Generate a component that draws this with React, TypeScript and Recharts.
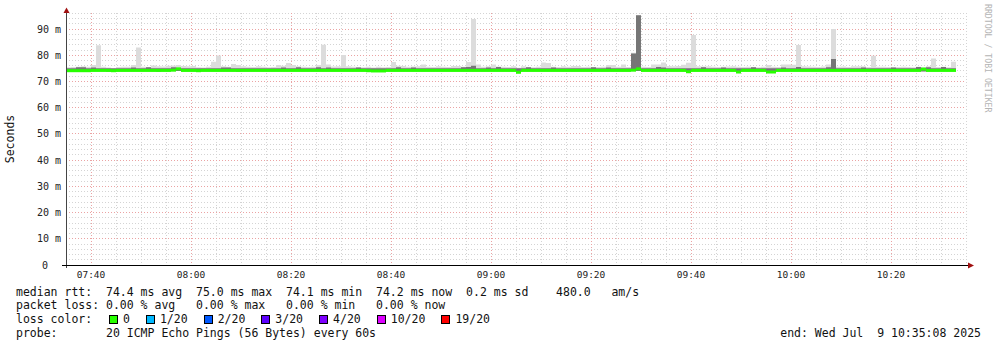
import { ComposedChart, Bar, XAxis, YAxis, CartesianGrid } from 'recharts'

// minutes after 07:35, one sample per minute
const TIME_TICKS = [5, 25, 45, 65, 85, 105, 125, 145, 165]
const TIME_LABELS = ['07:40', '08:00', '08:20', '08:40', '09:00', '09:20', '09:40', '10:00', '10:20']
const Y_TICKS = [0, 10, 20, 30, 40, 50, 60, 70, 80, 90]

const median = [
  74.3, 74.3, 74.3, 74.3, 74.3, 74.4, 74.4, 74.4, 74.4, 74.3,
  74.4, 74.4, 74.4, 74.4, 74.4, 74.4, 74.4, 74.4, 74.4, 74.4,
  74.4, 74.5, 75.0, 74.4, 74.4, 74.4, 74.3, 74.4, 74.4, 74.4,
  74.4, 74.4, 74.4, 74.4, 74.4, 74.4, 74.4, 74.4, 74.4, 74.4,
  74.4, 74.4, 74.4, 74.4, 74.4, 74.4, 74.4, 74.4, 74.4, 74.4,
  74.4, 74.4, 74.4, 74.4, 74.4, 74.4, 74.4, 74.4, 74.4, 74.4,
  74.3, 74.2, 74.2, 74.2, 74.4, 74.4, 74.4, 74.4, 74.4, 74.4,
  74.4, 74.4, 74.4, 74.4, 74.4, 74.4, 74.4, 74.4, 74.4, 74.4,
  74.4, 74.4, 74.4, 74.4, 74.4, 74.4, 74.4, 74.4, 74.4, 74.4,
  73.7, 74.4, 74.4, 74.4, 74.4, 74.4, 74.4, 74.4, 74.4, 74.4,
  74.4, 74.4, 74.4, 74.4, 74.4, 74.4, 74.4, 74.4, 74.4, 74.4,
  74.4, 74.4, 74.4, 74.5, 75.0, 74.4, 74.4, 74.4, 74.4, 74.4,
  74.4, 74.4, 74.4, 74.4, 73.9, 74.4, 74.4, 74.4, 74.4, 74.4,
  74.4, 74.4, 74.4, 74.4, 73.8, 74.4, 74.4, 74.4, 74.4, 74.4,
  73.8, 73.8, 74.4, 74.4, 74.4, 74.4, 74.4, 74.4, 74.4, 74.4,
  74.4, 74.4, 74.4, 74.4, 74.4, 74.4, 74.4, 74.4, 74.4, 74.4,
  74.4, 74.4, 74.4, 74.4, 74.4, 74.4, 74.4, 74.4, 74.4, 74.4,
  74.4, 74.9, 74.4, 74.4, 74.4, 74.4, 74.4, 74.4,
]

const smokeLo = [
  74.0, 74.0, 74.0, 74.0, 74.0, 74.0, 74.0, 74.0, 73.8, 73.8,
  74.0, 74.0, 74.0, 74.0, 74.0, 74.0, 74.0, 74.0, 73.8, 74.0,
  74.0, 74.0, 74.0, 74.0, 74.0, 74.0, 74.0, 74.0, 74.0, 74.0,
  74.0, 74.0, 74.0, 74.0, 73.8, 74.0, 74.0, 74.0, 74.0, 74.0,
  74.0, 74.0, 74.0, 74.0, 74.0, 74.0, 74.0, 74.0, 74.0, 74.0,
  74.0, 74.0, 74.0, 74.0, 74.0, 74.0, 74.0, 74.0, 74.0, 74.0,
  74.0, 73.8, 73.8, 74.0, 74.0, 74.0, 74.0, 74.0, 74.0, 74.0,
  74.0, 74.0, 74.0, 74.0, 74.0, 74.0, 74.0, 74.0, 74.0, 74.0,
  74.0, 74.0, 74.0, 74.0, 74.0, 74.0, 74.0, 74.0, 74.0, 74.0,
  73.4, 74.0, 74.0, 74.0, 74.0, 74.0, 74.0, 74.0, 74.0, 74.0,
  74.0, 74.0, 74.0, 74.0, 74.0, 74.0, 74.0, 74.0, 74.0, 74.0,
  74.0, 74.0, 74.0, 74.0, 74.0, 74.0, 74.0, 74.0, 74.0, 74.0,
  74.0, 74.0, 74.0, 74.0, 73.5, 74.0, 74.0, 74.0, 74.0, 74.0,
  74.0, 74.0, 74.0, 74.0, 73.5, 74.0, 74.0, 74.0, 74.0, 74.0,
  73.5, 73.5, 74.0, 74.0, 74.0, 74.0, 74.0, 74.0, 74.0, 74.0,
  74.0, 74.0, 74.0, 74.0, 74.0, 74.0, 74.0, 74.0, 74.0, 74.0,
  74.0, 74.0, 74.0, 74.0, 74.0, 74.0, 74.0, 74.0, 74.0, 74.0,
  74.0, 73.8, 74.0, 74.0, 74.0, 74.0, 74.0, 74.0,
]

const smokeHi = [
  75.4, 75.5, 75.6, 75.8, 75.6, 76.3, 83.8, 75.6, 75.3, 74.9,
  75.5, 75.6, 75.6, 76.3, 83.0, 75.6, 75.5, 76.1, 75.8, 75.7,
  76.0, 76.1, 76.3, 75.9, 75.8, 75.9, 75.4, 75.3, 75.6, 77.5,
  79.9, 75.8, 75.6, 76.7, 76.3, 75.8, 75.6, 75.5, 75.8, 75.6,
  75.4, 75.5, 76.3, 76.0, 77.0, 76.3, 75.8, 75.6, 75.5, 75.6,
  76.3, 84.0, 76.5, 75.7, 75.8, 80.1, 75.8, 75.6, 75.5, 75.4,
  75.6, 75.3, 75.6, 75.4, 75.5, 77.4, 76.0, 75.9, 75.6, 75.7,
  75.8, 76.5, 75.6, 75.5, 75.8, 75.6, 75.5, 75.9, 75.9, 75.6,
  77.4, 93.8, 76.5, 75.6, 75.8, 76.5, 75.7, 75.6, 75.5, 75.8,
  75.2, 75.8, 75.5, 75.4, 75.6, 77.2, 77.0, 75.6, 75.5, 75.8,
  75.6, 75.9, 75.9, 75.5, 75.6, 75.4, 75.5, 75.6, 76.3, 76.3,
  75.6, 76.5, 75.5, 81.0, 95.3, 75.6, 75.5, 76.5, 76.5, 77.2,
  75.9, 75.8, 75.9, 76.4, 77.1, 87.7, 75.8, 75.7, 75.8, 75.6,
  75.5, 75.6, 75.7, 75.8, 75.6, 75.5, 75.6, 75.5, 75.4, 75.6,
  76.3, 75.6, 75.5, 76.5, 76.5, 76.4, 83.9, 75.8, 75.7, 75.6,
  75.5, 75.7, 76.5, 90.0, 75.6, 75.7, 75.5, 75.8, 75.8, 75.8,
  75.5, 79.8, 75.6, 75.6, 75.5, 75.4, 75.5, 75.6, 75.5, 75.4,
  75.6, 75.5, 75.8, 78.8, 75.5, 75.6, 75.4, 77.5,
]

// upper edge of the denser (darker) part of the smoke
const smokeMid = [
  75.0, 75.0, 75.4, 75.4, 75.0, 75.3, 75.0, 75.0, 75.0, 75.0,
  75.0, 75.0, 75.0, 75.3, 75.0, 75.0, 75.4, 75.0, 75.0, 75.0,
  75.0, 75.4, 75.0, 75.0, 75.0, 75.0, 75.0, 75.0, 75.0, 75.0,
  75.0, 75.3, 75.3, 75.0, 75.0, 75.0, 75.0, 75.0, 75.0, 75.0,
  75.0, 75.0, 75.0, 75.3, 75.0, 75.0, 75.4, 75.0, 75.0, 75.0,
  75.4, 75.0, 75.3, 75.0, 75.0, 75.0, 75.0, 75.0, 75.3, 75.0,
  75.0, 75.0, 75.0, 75.0, 75.0, 75.0, 75.4, 75.0, 75.0, 75.3,
  75.0, 75.0, 75.0, 75.0, 75.0, 75.0, 75.0, 75.0, 75.0, 75.4,
  75.5, 76.0, 75.0, 75.0, 75.3, 75.0, 75.5, 75.0, 75.0, 75.0,
  75.0, 75.0, 75.4, 75.0, 75.0, 75.0, 75.0, 75.3, 75.0, 75.0,
  75.0, 75.0, 75.0, 75.0, 75.0, 75.4, 75.0, 75.0, 75.3, 75.0,
  75.0, 75.0, 75.0, 80.7, 95.3, 75.0, 75.0, 75.0, 75.5, 75.3,
  75.0, 75.0, 75.0, 75.0, 75.0, 75.0, 75.0, 75.4, 75.0, 75.0,
  75.0, 75.3, 75.0, 75.0, 75.0, 75.0, 75.0, 75.4, 75.0, 75.0,
  75.0, 75.0, 75.0, 75.3, 75.0, 75.0, 75.5, 75.0, 75.0, 75.0,
  75.0, 75.0, 75.4, 78.6, 75.0, 75.0, 75.0, 75.0, 75.0, 75.3,
  75.0, 75.0, 75.0, 75.0, 75.0, 75.3, 75.0, 75.0, 75.0, 75.0,
  75.5, 75.0, 75.4, 75.0, 75.0, 75.5, 75.0, 75.0,
]

const LOSS_COLORS = ['#26ff00', '#00b8ff', '#0059ff', '#5e00ff', '#7e00ff', '#dd00ff', '#ff0000']
const LOSS_LABELS = ['0', '1/20', '2/20', '3/20', '4/20', '10/20', '19/20']

const STATS = [
  'median rtt:  74.4 ms avg  75.0 ms max  74.1 ms min  74.2 ms now  0.2 ms sd    480.0   am/s',
  'packet loss: 0.00 % avg   0.00 % max   0.00 % min   0.00 % now',
]

const MONO = '"DejaVu Sans Mono", monospace'
const MINOR_X = Array.from({ length: 37 }, (_, i) => i * 5)
const MINOR_Y = Array.from({ length: 48 }, (_, i) => (i + 1) * 2)

const rows = median.map((m, i) => ({
  t: i + 0.5,
  median: m,
  smoke: [smokeLo[i], smokeHi[i]],
  dense: [smokeLo[i], smokeMid[i]],
}))

// 3px wide median line, drawn as a step per sample
const MedianShape = (p: any) => (
  <rect x={p.x} y={p.y - 1} width={p.width} height={3} fill="#26ff00" />
)

const YTick = ({ x, y, payload }: any) => (
  <text x={payload.value === 0 ? x - 12 : x + 1} y={y} dy="0.35em" textAnchor="end"
    fontFamily={MONO} fontSize={10} fill="#222">
    {payload.value === 0 ? '0' : `${payload.value} m`}
  </text>
)

const XTick = ({ x, y, payload }: any) => (
  <text x={x} y={y} dy={12.5} textAnchor="middle" fontFamily={MONO} fontSize={9.5} fill="#222">
    {TIME_LABELS[TIME_TICKS.indexOf(payload.value)]}
  </text>
)

export default function App() {
  const line = (top: number, left: number, text: string, extra: any = {}) => (
    <div style={{ position: 'absolute', top, left, lineHeight: '14px', whiteSpace: 'pre', ...extra }}>{text}</div>
  )
  return (
    <div style={{ position: 'absolute', left: 0, top: 0, width: 997, height: 347, background: '#fff',
      fontFamily: MONO, fontSize: 11.5, color: '#111' }}>
      <style>{`.recharts-cartesian-grid line{shape-rendering:crispEdges}`}</style>
      <ComposedChart width={997} height={347} data={rows} barCategoryGap={0} barGap={0}
        margin={{ top: 13.3, right: 31, left: 0, bottom: 62 }}>
        <CartesianGrid horizontalValues={MINOR_Y} verticalValues={MINOR_X}
          stroke="#d4d4d4" strokeDasharray="1 2" />
        <CartesianGrid horizontalValues={Y_TICKS.slice(1)} verticalValues={TIME_TICKS}
          stroke="#eba3a3" strokeDasharray="1 2" />
        <XAxis type="number" dataKey="t" domain={[0, 180]} ticks={TIME_TICKS} height={20}
          axisLine={false} tickLine={false} tickSize={0} tickMargin={0} tick={<XTick />} interval={0} />
        <XAxis xAxisId="smoke" type="number" dataKey="t" domain={[0, 180]} hide />
        <XAxis xAxisId="dense" type="number" dataKey="t" domain={[0, 180]} hide />
        <XAxis xAxisId="median" type="number" dataKey="t" domain={[0, 180]} hide />
        <YAxis type="number" domain={[0, 96]} ticks={Y_TICKS} width={66} allowDataOverflow
          axisLine={false} tickLine={false} tickSize={0} tickMargin={6} tick={<YTick />} interval={0} />
        <Bar xAxisId="smoke" dataKey="smoke" fill="#dcdcdc" barSize={4.99} isAnimationActive={false} />
        <Bar xAxisId="dense" dataKey="dense" fill="#767676" barSize={4.99} isAnimationActive={false} />
        <Bar xAxisId="median" dataKey="median" barSize={4.99} shape={<MedianShape />} isAnimationActive={false} />
      </ComposedChart>

      <svg width={997} height={347} style={{ position: 'absolute', left: 0, top: 0, pointerEvents: 'none' }}>
        <line x1={66.5} y1={268} x2={66.5} y2={12} stroke="#444" />
        <polygon points="63.5,13 69.5,13 66.5,7.5" fill="#a01010" />
        <line x1={62} y1={265.5} x2={969} y2={265.5} stroke="#000" />
        <polygon points="968,262.5 968,268.5 974,265.5" fill="#a01010" />
        <text transform="translate(14,139) rotate(-90)" textAnchor="middle" fontFamily={MONO}
          fontSize={11.5} fill="#111">Seconds</text>
        <text transform="translate(984.5,4) rotate(90)" textAnchor="start" fontFamily={MONO}
          fontSize={8.2} fill="#b4b4b4">RRDTOOL / TOBI OETIKER</text>
      </svg>

      {line(284.7, 16, STATS[0])}
      {line(298.3, 16, STATS[1])}
      {line(312.3, 16, 'loss color:')}
      <div style={{ position: 'absolute', top: 312.3, left: 109, display: 'flex', alignItems: 'center', height: 14 }}>
        {LOSS_LABELS.map((lab, i) => (
          <div key={lab} style={{ display: 'flex', alignItems: 'center', marginRight: 16 }}>
            <div style={{ width: 7, height: 7, background: LOSS_COLORS[i], border: '1px solid #000' }} />
            <span style={{ marginLeft: 5, whiteSpace: 'pre' }}>{lab}</span>
          </div>
        ))}
      </div>
      {line(326.3, 16, 'probe:       20 ICMP Echo Pings (56 Bytes) every 60s')}
      {line(326.3, 0, 'end: Wed Jul  9 10:35:08 2025', { left: 'auto', right: 16 })}
    </div>
  )
}
